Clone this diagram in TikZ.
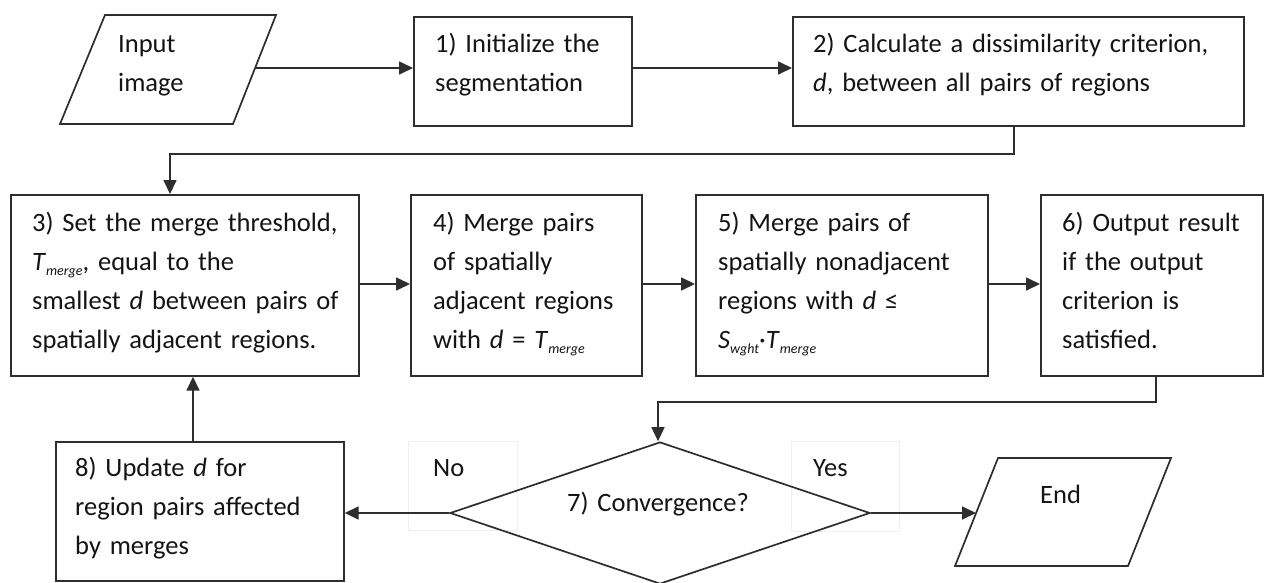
\documentclass[tikz,border=0pt]{standalone}
\usepackage{fontspec}
\setmainfont{Carlito}
\usetikzlibrary{shapes.geometric,arrows.meta}
\newcommand\mysubx[1]{\raisebox{-5pt}{\fontsize{14}{14}\selectfont\itshape #1}}
\newcommand\Tmerge{\textit{T}\mysubx{merge}}
\begin{document}
\begin{tikzpicture}[x=1pt,y=-1pt,
  box/.style={draw=black!82,line width=1.7pt,rectangle,inner sep=0pt,anchor=north west},
  shp/.style={draw=black!82,line width=1.7pt},
  txt/.style={font=\fontsize{26.5}{39}\selectfont,text=black!92,inner sep=0pt,anchor=base west,align=left,text width=#1},
  txt/.default=400pt,
  conn/.style={draw=black!82,line width=1.7pt,-{Triangle[length=14pt,width=13pt]}},
  lbl/.style={draw=black!6,fill=white,line width=0.8pt,rectangle,inner sep=0pt,anchor=north west}]
\useasboundingbox (0,0) rectangle (1264,582);
\fill[white] (0,0) rectangle (1264,582);

% label boxes (faint)
\node[lbl,minimum width=109pt,minimum height=89pt] (nobox) at (408,441) {};
\node[lbl,minimum width=108pt,minimum height=90pt] (yesbox) at (791,441) {};

% input parallelogram
\coordinate (inA) at (105,15);
\coordinate (inB) at (276,15);
\coordinate (inC) at (233,124);
\coordinate (inD) at (60,124);
\coordinate (inR) at (255,68);
\draw[shp] (inA) -- (inB) -- (inC) -- (inD) -- cycle;
\node[txt=120pt] (tin) at (118,52) {Input\\image};

% boxes row 1
\node[box,minimum width=218pt,minimum height=109pt] (b1) at (413,16) {};
\node[txt=200pt] (t1) at (435,52) {1) Initialize the\\segmentation};
\node[box,minimum width=451pt,minimum height=109pt] (b2) at (792,16) {};
\node[txt=430pt] (t2) at (813,52) {2) Calculate a dissimilarity criterion,\\\textit{d}, between all pairs of regions};

% row 2
\node[box,minimum width=348pt,minimum height=181pt] (b3) at (10,194) {};
\node[txt=330pt] (t3) at (32,231) {3) Set the merge threshold,\\\Tmerge, equal to the\\smallest \textit{d} between pairs of\\spatially adjacent regions.};
\node[box,minimum width=231pt,minimum height=181pt] (b4) at (410,194) {};
\node[txt=210pt] (t4) at (433,231) {4) Merge pairs\\of spatially\\adjacent regions\\with \textit{d} = \Tmerge};
\node[box,minimum width=292pt,minimum height=181pt] (b5) at (695,194) {};
\node[txt=270pt] (t5) at (718,231) {5) Merge pairs of\\spatially nonadjacent\\regions with \textit{d} ≤\\\textit{S}\mysubx{wght}·\Tmerge};
\node[box,minimum width=222pt,minimum height=181pt] (b6) at (1040,194) {};
\node[txt=200pt] (t6) at (1062,231) {6) Output result\\if the output\\criterion is\\satisfied.};

% row 3
\node[box,minimum width=288pt,minimum height=139pt] (b8) at (55,441) {};
\node[txt=270pt] (t8) at (75,476) {8) Update \textit{d} for\\region pairs affected\\by merges};
\node[diamond,shp,minimum width=420pt,minimum height=142pt,inner sep=0pt] (b7) at (660,513) {};
\node[txt=220pt] (t7) at (567,511) {7) Convergence?};
\node[txt=60pt] (tno) at (433,476) {No};
\node[txt=60pt] (tyes) at (813,476) {Yes};

% end parallelogram
\coordinate (enA) at (998,458);
\coordinate (enB) at (1171,458);
\coordinate (enC) at (1128,566);
\coordinate (enD) at (955,566);
\coordinate (enL) at (976,513);
\draw[shp] (enA) -- (enB) -- (enC) -- (enD) -- cycle;
\node[txt=80pt] (tend) at (1040,503) {End};

% connectors
\draw[conn] (inR) -- (inR -| b1.west);
\draw[conn] (b1.east |- inR) -- (b2.west |- inR);
\coordinate (c2) at (1014,154);
\coordinate (c3) at (170,154);
\draw[conn] (c2 |- b2.south) -- (c2) -- (c3) -- (c3 |- b3.north);
\coordinate (r2) at (0,284);
\draw[conn] (b3.east |- r2) -- (b4.west |- r2);
\draw[conn] (b4.east |- r2) -- (b5.west |- r2);
\draw[conn] (b5.east |- r2) -- (b6.west |- r2);
\coordinate (c6) at (1156,402);
\coordinate (c7) at (658,402);
\draw[conn] (c6 |- b6.south) -- (c6) -- (c7) -- (c7 |- b7.north);
\draw[conn] (b7.west) -- (b8.east |- b7.west);
\coordinate (c8) at (193,0);
\draw[conn] (c8 |- b8.north) -- (c8 |- b3.south);
\draw[conn] (b7.east) -- (enL);
\end{tikzpicture}
\end{document}
